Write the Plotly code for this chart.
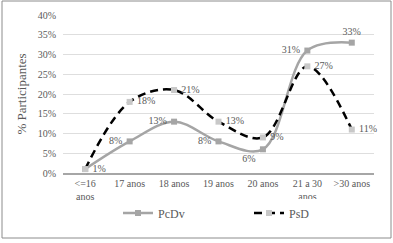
import plotly.graph_objects as go

categories = ["<=16<br>anos", "17 anos", "18 anos", "19 anos", "20 anos", "21 a 30<br>anos", ">30 anos"]
pcdv = [1, 8, 13, 8, 6, 31, 33]
psd = [1, 18, 21, 13, 9, 27, 11]
y_ticks = [0, 5, 10, 15, 20, 25, 30, 35, 40]

font_family = "Liberation Serif, DejaVu Serif, serif"
txt = "#595959"

pcdv_pos = ["middle right", "middle left", "middle left", "middle left", "bottom left", "middle left", "top center"]
psd_pos = ["middle right", "middle right", "middle right", "middle right", "middle right", "middle right", "middle right"]
psd_show = [False, True, True, True, True, True, True]


def lab(v, pos):
    s = f"{v}%"
    if pos.endswith("right"):
        return " " + s
    if pos.endswith("left"):
        return s + " "
    return s


fig = go.Figure()
fig.add_trace(go.Scatter(
    x=categories, y=[v / 100 for v in pcdv], name="PcDv",
    mode="lines+markers+text",
    line=dict(color="#a5a5a5", width=2.5, shape="spline", smoothing=1),
    marker=dict(symbol="square", size=6, color="#a5a5a5"),
    text=[lab(v, p) for v, p in zip(pcdv, pcdv_pos)], textposition=pcdv_pos,
    textfont=dict(family=font_family, size=10, color=txt),
    cliponaxis=False,
))
fig.add_trace(go.Scatter(
    x=categories, y=[v / 100 for v in psd], name="PsD",
    mode="lines+markers+text",
    line=dict(color="#000000", width=2.5, shape="spline", smoothing=1, dash="8px,5px"),
    marker=dict(symbol="square", size=6, color="#c8c8c8"),
    text=[lab(v, p) if s else "" for v, p, s in zip(psd, psd_pos, psd_show)], textposition=psd_pos,
    textfont=dict(family=font_family, size=10, color=txt),
    cliponaxis=False,
))

L, R, T, B = 63, 19, 15, 70
W, H = 393, 243
pw, ph = W - L - R, H - T - B

fig.update_layout(
    width=W, height=H,
    margin=dict(l=L, r=R, t=T, b=B, autoexpand=False),
    paper_bgcolor="white", plot_bgcolor="white",
    font=dict(family=font_family, color=txt, size=10),
    showlegend=True,
    legend=dict(orientation="h", x=(118 - L) / pw, xanchor="left",
                y=(T + ph - 213) / ph, yanchor="middle",
                font=dict(size=12, color=txt), entrywidth=86, entrywidthmode="pixels",
                itemwidth=30, traceorder="normal"),
    shapes=[dict(type="rect", xref="paper", yref="paper",
                 x0=(2 - L) / pw, x1=(391 - L) / pw,
                 y0=(T + ph - 238) / ph, y1=(T + ph - 1) / ph,
                 line=dict(color="#8c8c8c", width=1), fillcolor="rgba(0,0,0,0)", layer="below")],
)
fig.update_xaxes(type="category", range=[-0.5, 6.5], showgrid=False,
                 showline=True, linecolor="#a6a6a6", linewidth=1.5,
                 ticks="", tickfont=dict(size=10, color=txt), automargin=False)
fig.update_yaxes(range=[0, 0.40], tickvals=[v / 100 for v in y_ticks],
                 ticktext=[f"{v}%" for v in y_ticks],
                 showgrid=True, gridcolor="#dedede", gridwidth=1,
                 zeroline=False, showline=False, ticks="", ticklabelstandoff=6,
                 tickfont=dict(size=10, color=txt), automargin=False,
                 title=dict(text="% Participantes", font=dict(size=13, color=txt), standoff=8))

fig.write_html("out.html", config={"displayModeBar": False},
               post_script="document.body.style.margin='0';document.body.style.overflow='hidden';")
